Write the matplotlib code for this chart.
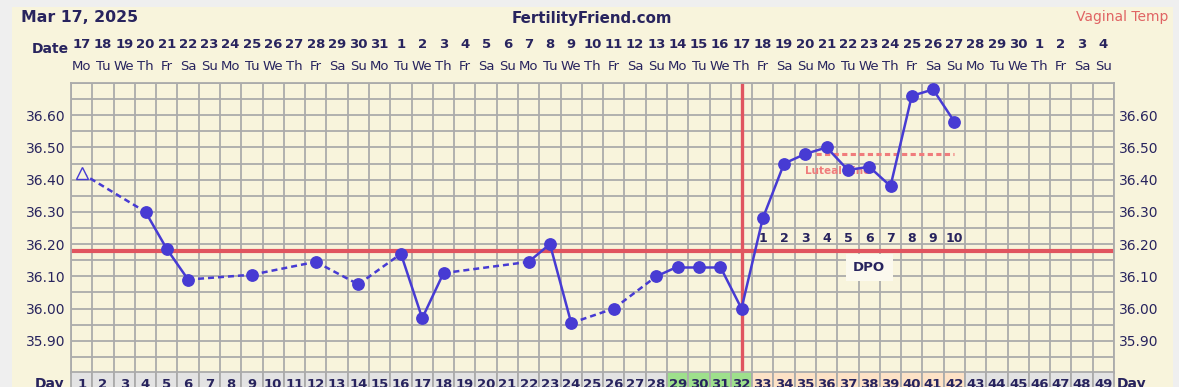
import matplotlib
matplotlib.use('Agg')
import matplotlib.pyplot as plt
from matplotlib.patches import Rectangle
from matplotlib.transforms import blended_transform_factory
from matplotlib.ticker import MultipleLocator, FixedLocator

# ---------------- data ----------------
cycle_days = list(range(1, 50))
date_labels = [str(d) for d in list(range(17, 32)) + list(range(1, 31)) + list(range(1, 5))]
weekday_labels = ['Mo', 'Tu', 'We', 'Th', 'Fr', 'Sa', 'Su'] * 7
temp_days = [1, 4, 5, 6, 9, 12, 14, 16, 17, 18, 22, 23, 24, 26, 28, 29, 30, 31, 32,
             33, 34, 35, 36, 37, 38, 39, 40, 41, 42]
temps = [36.42, 36.30, 36.185, 36.09, 36.105, 36.145, 36.075, 36.17, 35.97, 36.11,
         36.145, 36.20, 35.955, 36.00, 36.10, 36.13, 36.13, 36.13, 36.00,
         36.28, 36.45, 36.48, 36.50, 36.43, 36.44, 36.38, 36.66, 36.68, 36.58]
excluded_days = [1]
dpo_days = list(range(33, 43))
dpo_labels = [str(i) for i in range(1, 11)]
coverline = 36.18
ovulation_day = 32
luteal_level = 36.48
luteal_span = (35.5, 42.0)
fertile_days = [29, 30, 31, 32]
luteal_days = list(range(33, 43))
ytick_values = [35.90, 36.00, 36.10, 36.20, 36.30, 36.40, 36.50, 36.60]
ymin, ymax = 35.80, 36.70

# ---------------- style ----------------
W, H = 1179, 387
NAVY = '#28245e'
BLUE = '#473bd3'
RED = '#e05560'
SALMON = '#f07c7c'
GRID = '#ababab'
CREAM = '#f8f4dc'

fig = plt.figure(figsize=(W / 100, H / 100), dpi=100)
fig.patch.set_facecolor('#efefef')
fig.patches.append(Rectangle((12 / W, 0), (1173 - 12) / W, (H - 7) / H,
                             transform=fig.transFigure, facecolor=CREAM,
                             edgecolor='none', zorder=-10))

gx0, gx1, gy0, gy1 = 71, 1114, 83, 373
ax = fig.add_axes([gx0 / W, (H - gy1) / H, (gx1 - gx0) / W, (gy1 - gy0) / H])
ax.set_facecolor(CREAM)
ax.set_xlim(0.5, 49.5)
ax.set_ylim(ymin, ymax)

ax.xaxis.set_major_locator(FixedLocator([d + 0.5 for d in range(0, 50)]))
ax.yaxis.set_major_locator(FixedLocator(ytick_values))
ax.yaxis.set_minor_locator(MultipleLocator(0.05))
ax.set_xticklabels([])
ax.set_yticks(ytick_values)
ax.set_yticklabels([f'{v:.2f}' for v in ytick_values])
ax.tick_params(axis='x', length=0)
ax.tick_params(axis='y', which='both', length=0, labelsize=10, labelcolor=NAVY,
               left=True, right=True, labelleft=True, labelright=True, pad=3.8)
ax.grid(True, which='both', color=GRID, linewidth=1.3, zorder=0)
ax.set_axisbelow(True)
for s in ax.spines.values():
    s.set_color(GRID)
    s.set_linewidth(1.3)

# coverline & ovulation line
ax.axhline(coverline, color=RED, linewidth=3.0, zorder=2)
ax.axvline(ovulation_day, color=RED, linewidth=2.4, zorder=2)

# luteal line
ax.plot(luteal_span, [luteal_level] * 2, color=SALMON, linewidth=2.2,
        linestyle=(0, (1.7, 1.1)), zorder=2)
ax.text(35.0, 36.428, 'Luteal Line', color=SALMON, fontsize=7.5, fontweight='bold',
        ha='left', va='center', zorder=3)

# temperature segments
for i in range(len(temp_days) - 1):
    d0, d1 = temp_days[i], temp_days[i + 1]
    ls = '-' if d1 - d0 == 1 else (0, (2.4, 1.6))
    ax.plot([d0, d1], [temps[i], temps[i + 1]], color=BLUE, linewidth=1.8,
            linestyle=ls, zorder=4)
for d, t in zip(temp_days, temps):
    if d in excluded_days:
        ax.plot(d, t, marker='^', markersize=8, markerfacecolor=CREAM,
                markeredgecolor=BLUE, markeredgewidth=1.0, zorder=5)
    else:
        ax.plot(d, t, marker='o', markersize=8.2, color=BLUE, zorder=5)

# DPO numbers
for d, lab in zip(dpo_days, dpo_labels):
    ax.text(d, 36.70 - (237.5 - gy0) / 320, lab, color=NAVY, fontsize=9,
            fontweight='bold', ha='center', va='center', zorder=6)
ax.text(38.0, 36.70 - (266 - gy0) / 320, 'DPO', color=NAVY, fontsize=9.5,
        fontweight='bold', ha='center', va='center', zorder=6,
        bbox=dict(boxstyle='square,pad=0.55', facecolor='#fbf9ee', edgecolor='none'))

# ---------------- header texts ----------------
def fy(ypx):
    return 1 - ypx / H

fig.text(21 / W, fy(18), 'Mar 17, 2025', color=NAVY, fontsize=11.3, fontweight='bold',
         ha='left', va='center')
fig.text(592 / W, fy(18), 'FertilityFriend.com', color=NAVY, fontsize=10.8,
         fontweight='bold', ha='center', va='center')
fig.text(1168 / W, fy(17), 'Vaginal Temp', color='#e06464', fontsize=10,
         ha='right', va='center')
fig.text(50 / W, fy(49), 'Date', color=NAVY, fontsize=10, fontweight='bold',
         ha='center', va='center')

tr = blended_transform_factory(ax.transData, fig.transFigure)
for d, lab, wd in zip(cycle_days, date_labels, weekday_labels):
    fig.text(d, fy(45), lab, transform=tr, color=NAVY, fontsize=9.5,
             fontweight='bold', ha='center', va='center')
    fig.text(d, fy(66.5), wd, transform=tr, color=NAVY, fontsize=9.5,
             ha='center', va='center')

# ---------------- day row ----------------
row_top, row_h = 372, 17
axd = fig.add_axes([gx0 / W, (H - row_top - row_h) / H, (gx1 - gx0) / W, row_h / H])
axd.set_xlim(0.5, 49.5)
axd.set_ylim(0, 1)
axd.axis('off')
for d in cycle_days:
    if d in fertile_days:
        fc = '#9ee08c'
    elif d in luteal_days:
        fc = '#fde2c6'
    else:
        fc = '#e3e3e3'
    axd.add_patch(Rectangle((d - 0.5, 0), 1, 1, facecolor=fc, edgecolor=GRID,
                            linewidth=1.3, clip_on=False))
    fig.text(d, fy(384), str(d), transform=tr, color=NAVY, fontsize=9.5,
             fontweight='bold', ha='center', va='center')
fig.text(50 / W, fy(384), 'Day', color=NAVY, fontsize=10, fontweight='bold',
         ha='center', va='center')
fig.text(1117 / W, fy(384), 'Day', color=NAVY, fontsize=10, fontweight='bold',
         ha='left', va='center')

fig.savefig('out.png', dpi=100, facecolor=fig.get_facecolor())
